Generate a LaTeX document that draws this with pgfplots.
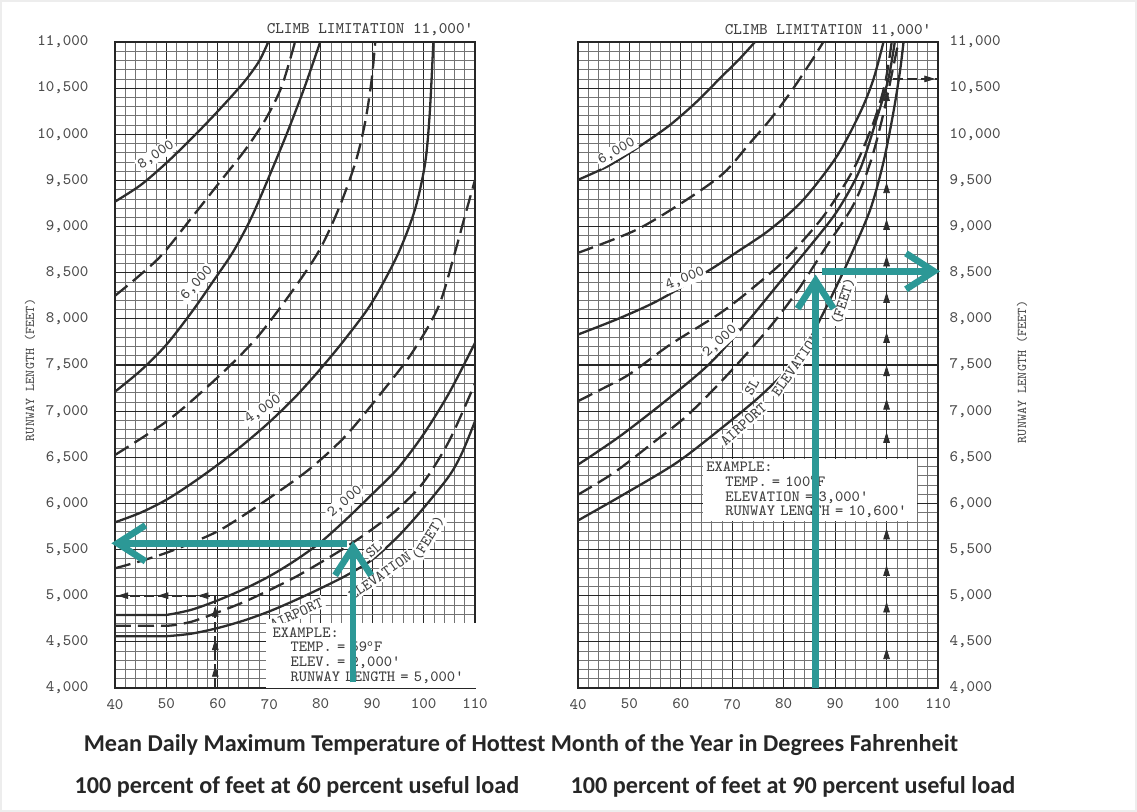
\documentclass[border=0pt]{standalone}
\usepackage{fontspec}
\usepackage{pgfplots}
\pgfplotsset{compat=1.18}
\usetikzlibrary{arrows.meta}
\newfontfamily\carlito{Carlito}
\definecolor{tealar}{RGB}{44,152,150}
\definecolor{ink}{RGB}{45,45,45}

\pgfplotsset{
  chart/.style={
    scale only axis, width=180pt, height=323pt,
    xmin=40,xmax=110,ymin=4000,ymax=11000,
    scaled y ticks=false, scaled x ticks=false,
    xtick={40,50,...,110},
    xticklabels={40,50,60,70,80,90,100,110},
    ytick={4000,4500,...,11000},
    yticklabels={{4,000},{4,500},{5,000},{5,500},{6,000},{6,500},{7,000},{7,500},{8,000},{8,500},{9,000},{9,500},{10,000},{10,500},{11,000}},
    minor x tick num=4, minor y tick num=4,
    grid=both,
    major grid style={draw=black!85, line width=0.6pt},
    minor grid style={draw=black!55, line width=0.35pt},
    axis line style={draw=black!85, line width=0.9pt},
    major tick length=0pt, minor tick length=0pt,
    tick label style={font=\ttfamily\fontsize{8}{9}\selectfont, text=black!70},
    xticklabel style={yshift=-2pt},
    clip=false,
  },
  sol/.style={ink, line width=1.15pt, smooth, tension=0.5},
  das/.style={ink, line width=1.15pt, smooth, tension=0.5, dash pattern=on 8pt off 3.5pt},
  tarrow/.style={tealar, line width=3.3pt, -{Straight Barb[length=14pt,width=18pt]}},
  exline/.style={ink, line width=0.8pt, dash pattern=on 5pt off 2pt},
  upmark/.style={only marks, mark=triangle*, mark size=3pt, mark options={fill=ink, draw=ink, xscale=0.55}},
}
\tikzset{
  lab/.style={fill=white, inner sep=0.8pt, font=\ttfamily\fontsize{7.6}{8}\selectfont, text=black!75},
  exbox/.style={fill=white, anchor=south west, align=left, font=\ttfamily\fontsize{7.8}{7.4}\selectfont, text=black!75},
}

\begin{document}
\begin{tikzpicture}
\path[use as bounding box] (0,0) rectangle (568.5pt,406pt);
\draw[black!7, line width=1pt] (0.5pt,0.5pt) rectangle (568pt,405.5pt);

% ---------------- LEFT: 60 percent useful load ----------------
\begin{axis}[chart, at={(57.5pt,62pt)}, anchor=south west,
  yticklabel style={xshift=-9.8pt}]
\addplot[sol] coordinates {(40,9270) (45,9450) (50,9690) (55,9960) (60,10250) (65,10560) (68,10790) (69.8,11000)};
\addplot[das] coordinates {(40,8250) (44.5,8457) (49.1,8692) (54.3,9053) (60.7,9505) (65.3,9830) (69.2,10155) (72.4,10516) (75,11000)};
\addplot[sol] coordinates {(40,7211) (45,7440) (50,7720) (55,8080) (59,8400) (63,8730) (66.6,9107) (70.5,9613) (73.7,10047) (76.9,10516) (79.9,11000)};
\addplot[das] coordinates {(40,6525) (50.4,6904) (59.4,7337) (67.2,7771) (73.7,8241) (79.5,8720) (83.4,9180) (86.7,9685) (88.6,10119) (89.9,10588) (90.6,11000)};
\addplot[sol] coordinates {(40,5795) (45,5900) (50,6040) (55,6220) (60,6420) (65,6640) (70,6880) (75,7150) (80,7460) (85,7800) (90,8180) (95,8700) (98.3,9180) (100.3,9685) (101.2,10227) (101.9,11000)};
\addplot[das] coordinates {(40,5297) (45,5375) (50,5465) (55,5575) (60.7,5720) (68.5,6001) (77.6,6362) (84.7,6723) (91.2,7157) (97.7,7627) (102.9,8132) (106.1,8720) (108,9107) (110,9505)};
\addplot[sol] coordinates {(40,4791) (48,4791) (50.4,4795) (55,4850) (60,4950) (65,5070) (70,5210) (75,5380) (80,5580) (85,5830) (90,6100) (95,6380) (100,6750) (105,7200) (110,7740)};
\addplot[das] coordinates {(40,4675) (48,4675) (51,4678) (55,4720) (60,4820) (65,4930) (70,5060) (75,5200) (80,5360) (85,5530) (90,5720) (95,5940) (100,6230) (105,6680) (110,7300)};
\addplot[sol] coordinates {(40,4560) (48,4560) (50.5,4563) (55,4590) (60,4650) (65,4730) (70,4830) (75,4950) (80,5080) (85,5220) (90,5390) (95,5640) (100,5950) (105,6300) (107.5,6550) (110,6890)};
% curve labels
\node[lab, rotate=34] at (47.97,9776) {8,000};
\node[lab, rotate=48] at (55.9,8385) {6,000};
\node[lab, rotate=34] at (68.8,7020) {4,000};
\node[lab, rotate=40] at (84.7,6019) {2,000};
\node[lab, rotate=42] at (90.3,5500) {SL};
\node[lab, rotate=25] at (75.3,4807) {AIRPORT};
\node[lab, rotate=35] at (91.5,5214) {ELEVATION};
\node[lab, rotate=58] at (100.9,5625) {(FEET)};
% example path
\addplot[exline] coordinates {(59.5,4000) (59.5,5000) (40,5000)};
\addplot[upmark] coordinates {(59.5,4159) (59.5,4448) (59.5,4809)};
\addplot[only marks, mark=triangle*, mark size=3pt, mark options={fill=ink, draw=ink, rotate=90, xscale=0.55}] coordinates {(41.9,5000) (49.7,5000) (57.5,5000)};
\node[exbox, text width=99pt, inner xsep=3.5pt, inner ysep=2pt] at (69.2,4000)
 {EXAMPLE:\\\hspace*{9pt}TEMP. = 59\textsuperscript{o}F\\\hspace*{9pt}ELEV. = 2,000'\\\hspace*{9pt}RUNWAY LENGTH = 5,000'};
% teal arrows
\addplot[tarrow] coordinates {(86.3,4060) (86.3,5590)};
\addplot[tarrow] coordinates {(85.1,5568) (39.3,5568)};
\end{axis}

% ---------------- RIGHT: 90 percent useful load ----------------
\begin{axis}[chart, at={(289pt,62pt)}, anchor=south west,
  yticklabel pos=right, yticklabel style={xshift=2.3pt}]
\addplot[sol] coordinates {(40,9506) (46,9660) (52,9870) (57.9,10101) (63.1,10354) (67.6,10606) (71.5,10822) (74.4,11000)};
\addplot[das] coordinates {(40,8715) (51.4,8966) (61.1,9290) (68.3,9578) (73.4,9903) (77.3,10155) (81.2,10444) (85.1,10768) (87.7,11000)};
\addplot[sol] coordinates {(40,7830) (48.2,8010) (55.9,8208) (65.7,8533) (70.8,8720) (77.3,8966) (83.8,9290) (90.3,9759) (94.8,10228) (97.4,10588) (99.4,11000)};
\addplot[das] coordinates {(40,7108) (45,7250) (50,7400) (57.9,7720) (67.6,8060) (74.1,8340) (80.6,8660) (87.7,9110) (93.5,9614) (97.4,10119) (99.7,10552) (101,11000)};
\addplot[sol] coordinates {(40,6420) (48.2,6730) (57.9,7150) (65.7,7520) (72.8,7960) (79.3,8400) (84.4,8740) (90.3,9160) (94.8,9614) (98,10155) (100.3,10588) (101.6,11000)};
\addplot[das] coordinates {(40,6095) (47,6333) (54.6,6658) (61.1,6946) (67.6,7307) (74.1,7703) (78.6,8000) (83,8330) (88,8760) (93.5,9230) (96.8,9686) (99.4,10228) (102.3,11000)};
\addplot[sol] coordinates {(40,5815) (49.5,6117) (59.2,6442) (67.6,6802) (75.4,7162) (81.9,7520) (85,7780) (88.4,8140) (92.5,8620) (96.8,9180) (99.4,9700) (101.3,10230) (102.6,10680) (103.3,11000)};
% curve labels
\node[lab, rotate=30] at (47.5,9813) {6,000};
\node[lab, rotate=22] at (60.8,8432) {4,000};
\node[lab, rotate=42] at (67.6,7757) {2,000};
\node[lab, rotate=60] at (73.8,7260) {SL};
\node[lab, rotate=42] at (72.2,6860) {AIRPORT};
\node[lab, rotate=55] at (82.3,7500) {ELEVATION};
\node[lab, rotate=72] at (91.5,8190) {(FEET)};
% example path
\addplot[exline] coordinates {(100,4000) (100,10600) (110,10600)};
\addplot[upmark] coordinates {(100,4350) (100,4855) (100,5252) (100,5648) (100,6694) (100,7054) (100,7415) (100,7776) (100,8209) (100,8605) (100,9002) (100,9399) (100,10400)};
\addplot[only marks, mark=triangle*, mark size=3pt, mark options={fill=ink, draw=ink, rotate=-90, xscale=0.55}] coordinates {(108,10600)};
\node[exbox, text width=104pt, inner xsep=1.5pt, inner ysep=1.5pt] at (64.3,5805)
 {EXAMPLE:\\\hspace*{9.5pt}TEMP. = 100\textsuperscript{o}F\\\hspace*{9.5pt}ELEVATION = 3,000'\\\hspace*{9.5pt}RUNWAY LENGTH = 10,600'};
% teal arrows
\addplot[tarrow] coordinates {(86.2,4000) (86.2,8480)};
\addplot[tarrow] coordinates {(87.4,8515) (110.4,8515)};
\end{axis}

% ---------------- texts around ----------------
\node[font=\ttfamily\fontsize{8.1}{9}\selectfont, text=black!75] at (185pt,391pt) {CLIMB LIMITATION 11,000'};
\node[font=\ttfamily\fontsize{8.1}{9}\selectfont, text=black!75] at (414pt,390.5pt) {CLIMB LIMITATION 11,000'};
\node[rotate=90, font=\ttfamily\fontsize{6.7}{8}\selectfont, text=black!70] at (15pt,221pt) {RUNWAY LENGTH (FEET)};
\node[rotate=90, font=\ttfamily\fontsize{6.7}{8}\selectfont, text=black!70] at (511pt,220pt) {RUNWAY LENGTH (FEET)};
\node[font=\carlito\bfseries\fontsize{12.1}{14}\selectfont, text=black!85] at (260.5pt,33.5pt) {Mean Daily Maximum Temperature of Hottest Month of the Year in Degrees Fahrenheit};
\node[font=\carlito\bfseries\fontsize{12.1}{14}\selectfont, text=black!85] at (148.5pt,12.5pt) {100 percent of feet at 60 percent useful load};
\node[font=\carlito\bfseries\fontsize{12.1}{14}\selectfont, text=black!85] at (396.5pt,12.5pt) {100 percent of feet at 90 percent useful load};
\end{tikzpicture}
\end{document}
